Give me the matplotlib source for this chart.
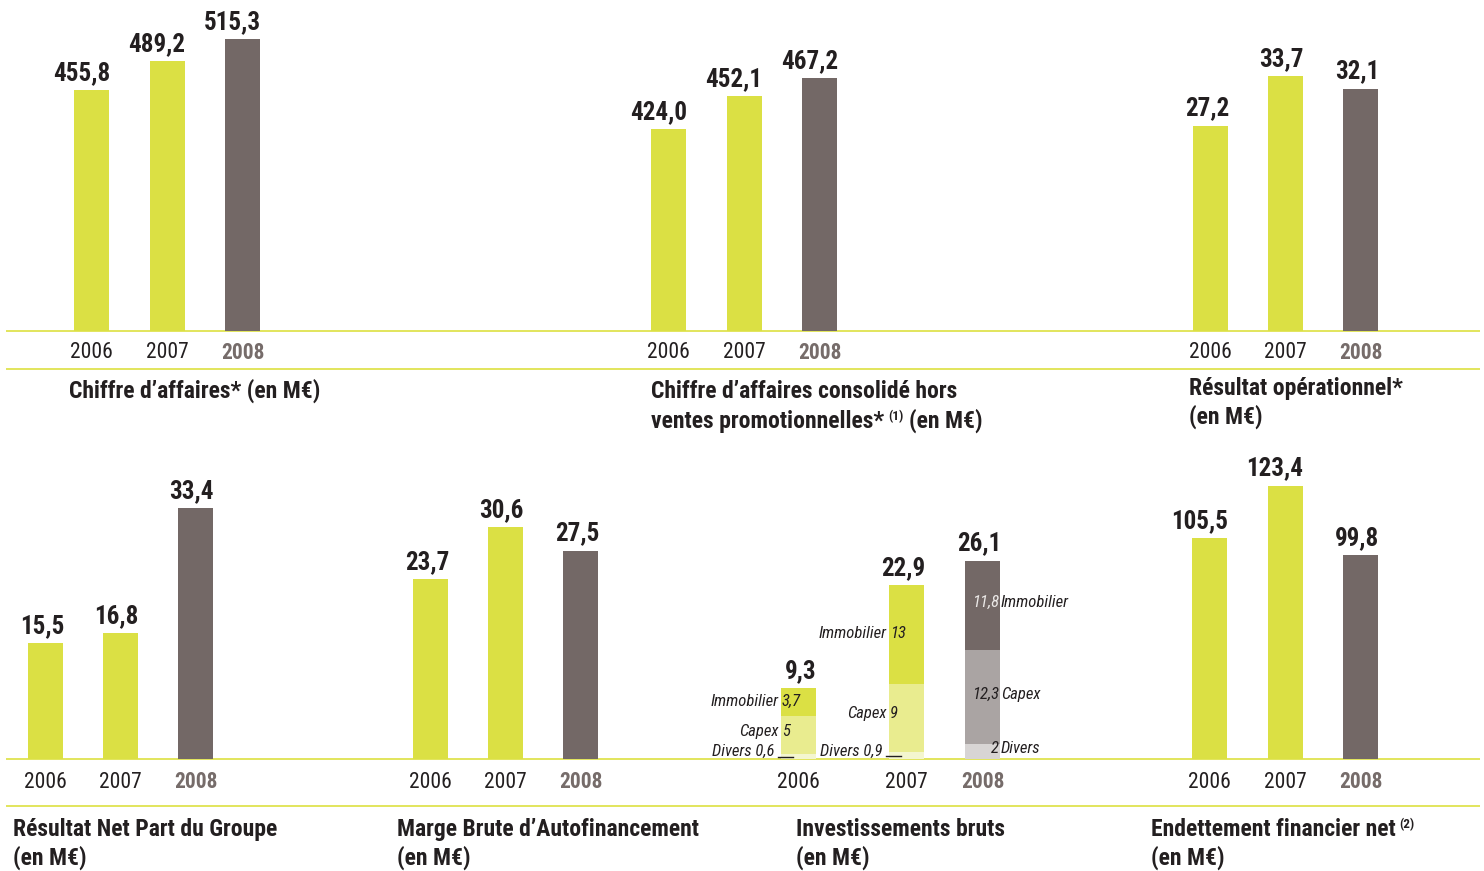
import matplotlib.pyplot as plt

plt.rcParams['font.family'] = ['Roboto Condensed', 'Liberation Sans', 'DejaVu Sans']

W, H = 1484, 871

years = ['2006', '2007', '2008']

chiffre_affaires = [455.8, 489.2, 515.3]
ca_hors_promo = [424.0, 452.1, 467.2]
resultat_op = [27.2, 33.7, 32.1]
resultat_net = [15.5, 16.8, 33.4]
marge_brute = [23.7, 30.6, 27.5]
endettement = [105.5, 123.4, 99.8]

# investissements bruts, stacked from the bottom
inv_divers = [0.6, 0.9, 2.0]
inv_capex = [5.0, 9.0, 12.3]
inv_immo = [3.7, 13.0, 11.8]
inv_total = [9.3, 22.9, 26.1]

YG = '#dbe044'
GRAY = '#736866'
LIGHT_YG = '#e9ec8f'
PALE_YG = '#f4f6cf'
MID_GRAY = '#aaa4a3'
LIGHT_GRAY = '#d8d5d4'
LINE = '#dfe34f'
DARK = '#231f20'
YEAR_HI = '#766c6a'
PX = 0.72  # points per pixel at dpi 100
BAR_PX = 35


def fmt(v, keep_decimal=True):
    if not keep_decimal and float(v).is_integer():
        return str(int(v))
    return f'{v:.1f}'.replace('.', ',')


fig = plt.figure(figsize=(W / 100, H / 100), dpi=100)
bg = fig.add_axes([0, 0, 1, 1])
bg.set_xlim(0, W)
bg.set_ylim(H, 0)
bg.axis('off')

# thin rules under the bars and under the years
for y in (331.5, 369.5, 759.3, 806):
    bg.plot([6, 1480], [y, y], color=LINE, lw=1.3, solid_capstyle='butt')


def panel(cx0, step, base, ppu, y0=0.0, xs=(0, 1, 2)):
    top = base - 330
    xmax = xs[-1] + 0.5
    left = cx0 - 0.5 * step
    width = (xmax + 0.5) * step
    height = base - top
    ax = fig.add_axes([left / W, (H - base) / H, width / W, height / H])
    ax.set_xlim(-0.5, xmax)
    ax.set_ylim(y0, y0 + height / ppu)
    ax.axis('off')
    return ax


def years_row(ax, xs, y0, drop):
    for i, (x, yr) in enumerate(zip(xs, years)):
        last = i == 2
        ax.annotate(yr, (x, y0), xytext=(0, -drop * PX), textcoords='offset points',
                    ha='center', va='center', fontsize=15.5,
                    fontweight='bold' if last else 'normal',
                    color=YEAR_HI if last else DARK, annotation_clip=False)


def value_label(ax, x, v, bw):
    # totals sit flush with the right edge of their bar
    ax.annotate(fmt(v), (x + bw / 2, v), xytext=(1 * PX, 10 * PX),
                textcoords='offset points', ha='right', va='baseline',
                fontsize=18, fontweight='bold', color=DARK, annotation_clip=False)


def simple_chart(vals, cx0, step, base, ppu, y0=0.0, drop=21.5):
    ax = panel(cx0, step, base, ppu, y0)
    xs = [0, 1, 2]
    bw = BAR_PX / step
    ax.bar(xs, vals, width=bw, color=[YG, YG, GRAY])
    for x, v in zip(xs, vals):
        value_label(ax, x, v, bw)
    years_row(ax, xs, y0, drop)
    return ax


simple_chart(chiffre_affaires, 91.5, 75.5, 331.5, 0.863, 176.2)
simple_chart(ca_hors_promo, 668.5, 75.5, 331.5, 1.171, 251.1)
simple_chart(resultat_op, 1210.5, 75, 331.5, 7.57)
simple_chart(resultat_net, 45.5, 75, 759, 7.5, drop=23)
simple_chart(marge_brute, 430.5, 75, 759, 7.58, drop=23)
simple_chart(endettement, 1209.5, 75.5, 759, 2.956, 30.9, drop=23)

# stacked investments chart
step6 = 76
xs6 = [0, 108 / step6, 184 / step6]
ax6 = panel(798.5, step6, 759, 7.6, xs=xs6)
bw = BAR_PX / step6
seg_colors = [(PALE_YG, LIGHT_YG, YG), (PALE_YG, LIGHT_YG, YG),
              (LIGHT_GRAY, MID_GRAY, GRAY)]
for i, x in enumerate(xs6):
    c_div, c_cap, c_imm = seg_colors[i]
    ax6.bar(x, inv_divers[i], width=bw, color=c_div)
    ax6.bar(x, inv_capex[i], width=bw, bottom=inv_divers[i], color=c_cap)
    ax6.bar(x, inv_immo[i], width=bw, bottom=inv_divers[i] + inv_capex[i],
            color=c_imm)
    value_label(ax6, x, inv_total[i], bw)
years_row(ax6, xs6, 0, 23)

lab = dict(fontsize=12, fontstyle='italic', va='center', color=DARK,
           textcoords='offset points', annotation_clip=False)
for i in (0, 1):
    xl = xs6[i] - bw / 2
    y_imm = inv_divers[i] + inv_capex[i] + inv_immo[i] / 2
    y_cap = inv_divers[i] + inv_capex[i] / 2
    ax6.annotate('Immobilier', (xl, y_imm), xytext=(-2 * PX, 1 * PX), ha='right', **lab)
    ax6.annotate(fmt(inv_immo[i], False), (xl, y_imm), xytext=(1 * PX, 1 * PX),
                 ha='left', **lab)
    ax6.annotate('Capex', (xl, y_cap), xytext=(-2 * PX, 4 * PX), ha='right', **lab)
    ax6.annotate(fmt(inv_capex[i], False), (xl, y_cap), xytext=(1 * PX, 4 * PX),
                 ha='left', **lab)
    ax6.annotate('Divers ' + fmt(inv_divers[i]), (xl, 0), xytext=(-6 * PX, 8 * PX),
                 ha='right', **lab)
    ax6.plot([xl - 3 / step6, xl + 12 / step6], [inv_divers[i] / 2] * 2,
             color=DARK, lw=1, clip_on=False)

xr = xs6[2] + bw / 2
y_imm = inv_divers[2] + inv_capex[2] + inv_immo[2] / 2
y_cap = inv_divers[2] + inv_capex[2] / 2
for name, val, y, col in [('Immobilier', inv_immo[2], y_imm, '#ebe8e7'),
                          ('Capex', inv_capex[2], y_cap, DARK),
                          ('Divers', inv_divers[2], inv_divers[2] / 2, DARK)]:
    ax6.annotate(fmt(val, False), (xr, y), xytext=(-1 * PX, 3 * PX), ha='right',
                 **{**lab, 'color': col})
    ax6.annotate(name, (xr, y), xytext=(1 * PX, 3 * PX), ha='left', **lab)

# chart titles
title = dict(fontsize=17, fontweight='bold', color=DARK, va='baseline')


def note(after, base_y, mark):
    # footnote call placed as a superscript after a title line
    return bg.annotate(mark, xy=(1, base_y), xycoords=(after, 'data'),
                       xytext=(4 * PX, 8 * PX), textcoords='offset points',
                       fontsize=9.5, fontweight='bold', color=DARK,
                       va='baseline', ha='left')


bg.text(69, 398, 'Chiffre d\u2019affaires* (en M\u20ac)', **title)

bg.text(651, 398, 'Chiffre d\u2019affaires consolid\u00e9 hors', **title)
t = bg.text(651, 428, 'ventes promotionnelles*', **title)
sup = note(t, 428, '(1)')
bg.annotate('(en M\u20ac)', xy=(1, 428), xycoords=(sup, 'data'),
            xytext=(6 * PX, 0), textcoords='offset points', ha='left',
            va='baseline', fontsize=17, fontweight='bold', color=DARK)

bg.text(1189, 395, 'R\u00e9sultat op\u00e9rationnel*', **title)
bg.text(1189, 424, '(en M\u20ac)', **title)

bg.text(13, 836, 'R\u00e9sultat Net Part du Groupe', **title)
bg.text(13, 865, '(en M\u20ac)', **title)

bg.text(397, 836, 'Marge Brute d\u2019Autofinancement', **title)
bg.text(397, 865, '(en M\u20ac)', **title)

bg.text(796, 836, 'Investissements bruts', **title)
bg.text(796, 865, '(en M\u20ac)', **title)

t = bg.text(1151, 836, 'Endettement financier net', **title)
note(t, 836, '(2)')
bg.text(1151, 865, '(en M\u20ac)', **title)

fig.savefig('out.png', dpi=100)
